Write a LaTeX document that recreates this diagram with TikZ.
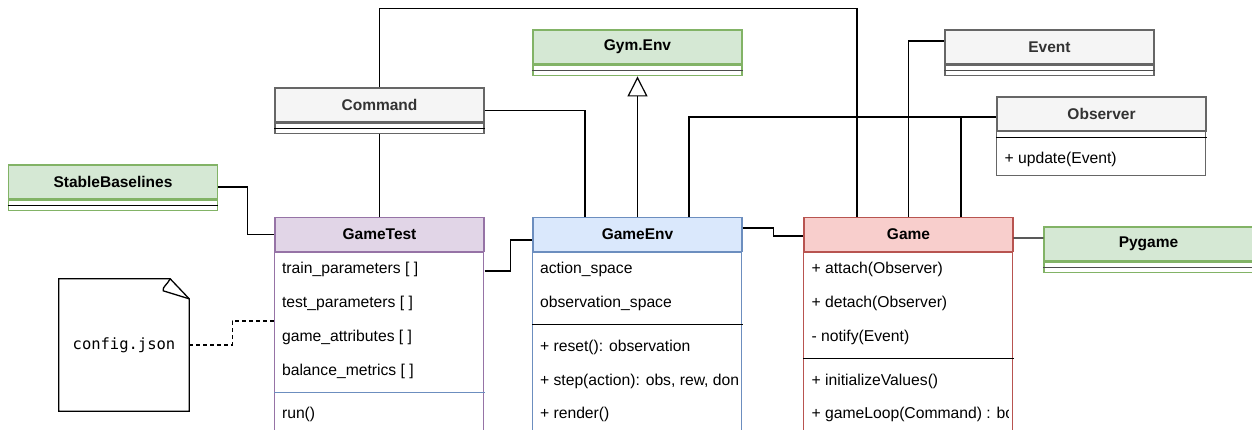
\documentclass[tikz,border=0pt]{standalone}
\usepackage{fontspec}
\setmainfont{Liberation Sans}
\newfontfamily\codefont{DejaVu Sans Mono}
\usetikzlibrary{arrows.meta}

\definecolor{grayfill}{HTML}{F5F5F5}
\definecolor{grayline}{HTML}{666666}
\definecolor{graytext}{HTML}{333333}
\definecolor{greenfill}{HTML}{D5E8D4}
\definecolor{greenline}{HTML}{82B366}
\definecolor{purplefill}{HTML}{E1D5E7}
\definecolor{purpleline}{HTML}{9673A6}
\definecolor{bluefill}{HTML}{DAE8FC}
\definecolor{blueline}{HTML}{6C8EBF}
\definecolor{redfill}{HTML}{F8CECC}
\definecolor{redline}{HTML}{B85450}
\definecolor{sepdark}{HTML}{4D4D4D}

\tikzset{
  box/.style={line width=1.3bp, minimum width=209bp, inner sep=0pt},
  hdr/.style={box, minimum height=34bp, font=\fontsize{15.5bp}{18bp}\selectfont\bfseries},
  stub/.style={box, minimum height=10.5bp, fill=white, anchor=north},
  grayhdr/.style={hdr, draw=grayline, fill=grayfill, text=graytext},
  greenhdr/.style={hdr, draw=greenline, fill=greenfill},
  purplehdr/.style={hdr, draw=purpleline, fill=purplefill},
  bluehdr/.style={hdr, draw=blueline, fill=bluefill},
  redhdr/.style={hdr, draw=redline, fill=redfill},
  bodyframe/.style={line width=1.3bp, fill=white},
  sepline/.style={line width=1.3bp},
  row/.style={anchor=west, inner sep=0pt, text height=11bp, text depth=3bp,
              font=\fontsize{15.7bp}{18bp}\selectfont},
  conn/.style={draw=black, line width=1.2bp},
  notebdr/.style={draw=black, line width=1.3bp, line join=miter},
}

\begin{document}
\begin{tikzpicture}[x=1bp, y=-1bp]
\useasboundingbox (0,0) rectangle (1252,429);
\clip (0,0) rectangle (1252,429);

% ---------- small classes (header + empty body) ----------
\node[greenhdr] (sb) at (113,182) {StableBaselines};
\node[stub, draw=greenline] (sbb) at (sb.south) {};
\draw[sepline] (sbb.west) -- (sbb.east);

\node[grayhdr] (cmd) at (379.5,105) {Command};
\node[stub, draw=grayline] (cmdb) at (cmd.south) {};
\draw[sepline] (cmdb.west) -- (cmdb.east);

\node[greenhdr] (gym) at (637.5,47) {Gym.Env};
\node[stub, draw=greenline] (gymb) at (gym.south) {};
\draw[sepline, sepdark] (gymb.west) -- (gymb.east);

\node[grayhdr] (event) at (1049.5,47) {Event};
\node[stub, draw=grayline] (eventb) at (event.south) {};
\draw[sepline, sepdark] (eventb.west) -- (eventb.east);

\node[greenhdr] (pygame) at (1148.5,244) {Pygame};
\node[stub, draw=greenline] (pygameb) at (pygame.south) {};
\draw[sepline, sepdark] (pygameb.west) -- (pygameb.east);

% ---------- Observer ----------
\node[grayhdr] (obs) at (1101.5,114) {Observer};
\draw[bodyframe, draw=grayline] (obs.south west) rectangle ++(209,44);
\draw[sepline] ([yshift=-5.5bp]obs.south west) -- ([yshift=-5.5bp]obs.south east);
\node[row] (obs1) at ([xshift=8bp, yshift=-28bp]obs.south west) {+ update(Event)};

% ---------- GameTest ----------
\node[purplehdr] (gametest) at (379.5,234.5) {GameTest};
\draw[bodyframe, draw=purpleline] (gametest.south west) rectangle ++(209,210);
\node[row] (gt1) at ([xshift=7.5bp, yshift=-17bp]gametest.south west) {train\_parameters [ ]};
\node[row] (gt2) at ([xshift=7.5bp, yshift=-51bp]gametest.south west) {test\_parameters [ ]};
\node[row] (gt3) at ([xshift=7.5bp, yshift=-85bp]gametest.south west) {game\_attributes [ ]};
\node[row] (gt4) at ([xshift=7.5bp, yshift=-119bp]gametest.south west) {balance\_metrics [ ]};
\draw[sepline, blueline] ([yshift=-140bp]gametest.south west) -- ([yshift=-140bp]gametest.south east);
\node[row] (gt5) at ([xshift=7.5bp, yshift=-162bp]gametest.south west) {run()};

% ---------- GameEnv ----------
\node[bluehdr] (gameenv) at (637.5,234.5) {GameEnv};
\draw[bodyframe, draw=blueline] (gameenv.south west) rectangle ++(209,210);
\node[row] (ge1) at ([xshift=7.5bp, yshift=-17bp]gameenv.south west) {action\_space};
\node[row] (ge2) at ([xshift=7.5bp, yshift=-51bp]gameenv.south west) {observation\_space};
\draw[sepline] ([yshift=-72.5bp]gameenv.south west) -- ([yshift=-72.5bp]gameenv.south east);
\node[row] (ge3) at ([xshift=7.5bp, yshift=-95bp]gameenv.south west) {+ reset(): observation};
\begin{scope}
  \clip ([xshift=1bp]gameenv.south west) rectangle ([xshift=-5bp, yshift=-180bp]gameenv.south east);
  \node[row] (ge4) at ([xshift=7.5bp, yshift=-129bp]gameenv.south west) {+ step(action): obs, rew, done};
\end{scope}
\node[row] (ge5) at ([xshift=7.5bp, yshift=-162bp]gameenv.south west) {+ render()};

% ---------- Game ----------
\node[redhdr] (game) at (908.5,234.5) {Game};
\draw[bodyframe, draw=redline] (game.south west) rectangle ++(209,210);
\node[row] (g1) at ([xshift=8bp, yshift=-17bp]game.south west) {+ attach(Observer)};
\node[row] (g2) at ([xshift=8bp, yshift=-51bp]game.south west) {+ detach(Observer)};
\node[row] (g3) at ([xshift=8bp, yshift=-85bp]game.south west) {- notify(Event)};
\draw[sepline] ([yshift=-106.5bp]game.south west) -- ([yshift=-106.5bp]game.south east);
\node[row] (g4) at ([xshift=8bp, yshift=-129bp]game.south west) {+ initializeValues()};
\begin{scope}
  \clip ([xshift=1bp]game.south west) rectangle ([xshift=-5bp, yshift=-200bp]game.south east);
  \node[row] (g5) at ([xshift=8bp, yshift=-162bp]game.south west) {+ gameLoop(Command) : bool};
\end{scope}

% ---------- config.json note ----------
\node[minimum width=130bp, minimum height=132bp, inner sep=0pt,
      font=\codefont\fontsize{15.5bp}{18bp}\selectfont] (cfg) at (124,345) {config.json};
\coordinate (fa) at ([xshift=-19bp]cfg.north east);
\coordinate (fb) at ([yshift=-20bp]cfg.north east);
\coordinate (fc) at ([xshift=-26bp, yshift=-12bp]cfg.north east);
\draw[notebdr] (cfg.south west) -- (cfg.north west) -- (fa) -- (fb) -- (cfg.south east) -- cycle;
\draw[notebdr] (fa) .. controls ([xshift=-3bp, yshift=-6bp]fa) and ([xshift=-1bp, yshift=4bp]fc) .. (fc) -- (fb);

% ---------- connectors ----------
\draw[conn] ([yshift=-5bp]sb.east) -- ++(29,0) |- (gametest.west);
\draw[conn] (cmdb.south) -- (gametest.north);
\draw[conn] (cmd.north) -- ++(0,-79) -| ([xshift=-51.5bp]game.north);
\draw[conn] ([yshift=-5.5bp]cmd.east) -| ([xshift=-52.5bp]gameenv.north);
\draw[conn, -{Triangle[open, length=20bp, width=20bp]}] (gameenv.north) -- (gymb.south);
\draw[conn] ([xshift=51.5bp]gameenv.north) |- ([yshift=-3bp]obs.west);
\draw[conn] ([xshift=52.5bp]game.north) |- ([yshift=-3bp]obs.west);
\draw[conn] (game.north) |- ([yshift=6bp]event.west);
\draw[conn] ([yshift=-36.5bp]gametest.east) -- ++(26,0) |- ([yshift=-5.5bp]gameenv.west);
\draw[conn] ([yshift=6.5bp]gameenv.east) -- ++(31,0) |- ([yshift=-1.5bp]game.west);
\draw[conn] ([yshift=-3.5bp]game.east) -- ([yshift=6bp]pygame.west);
\draw[conn, dash pattern=on 4bp off 3bp] (cfg.east) -- ++(43,0) |- ([yshift=-86.5bp]gametest.west);
\end{tikzpicture}
\end{document}
